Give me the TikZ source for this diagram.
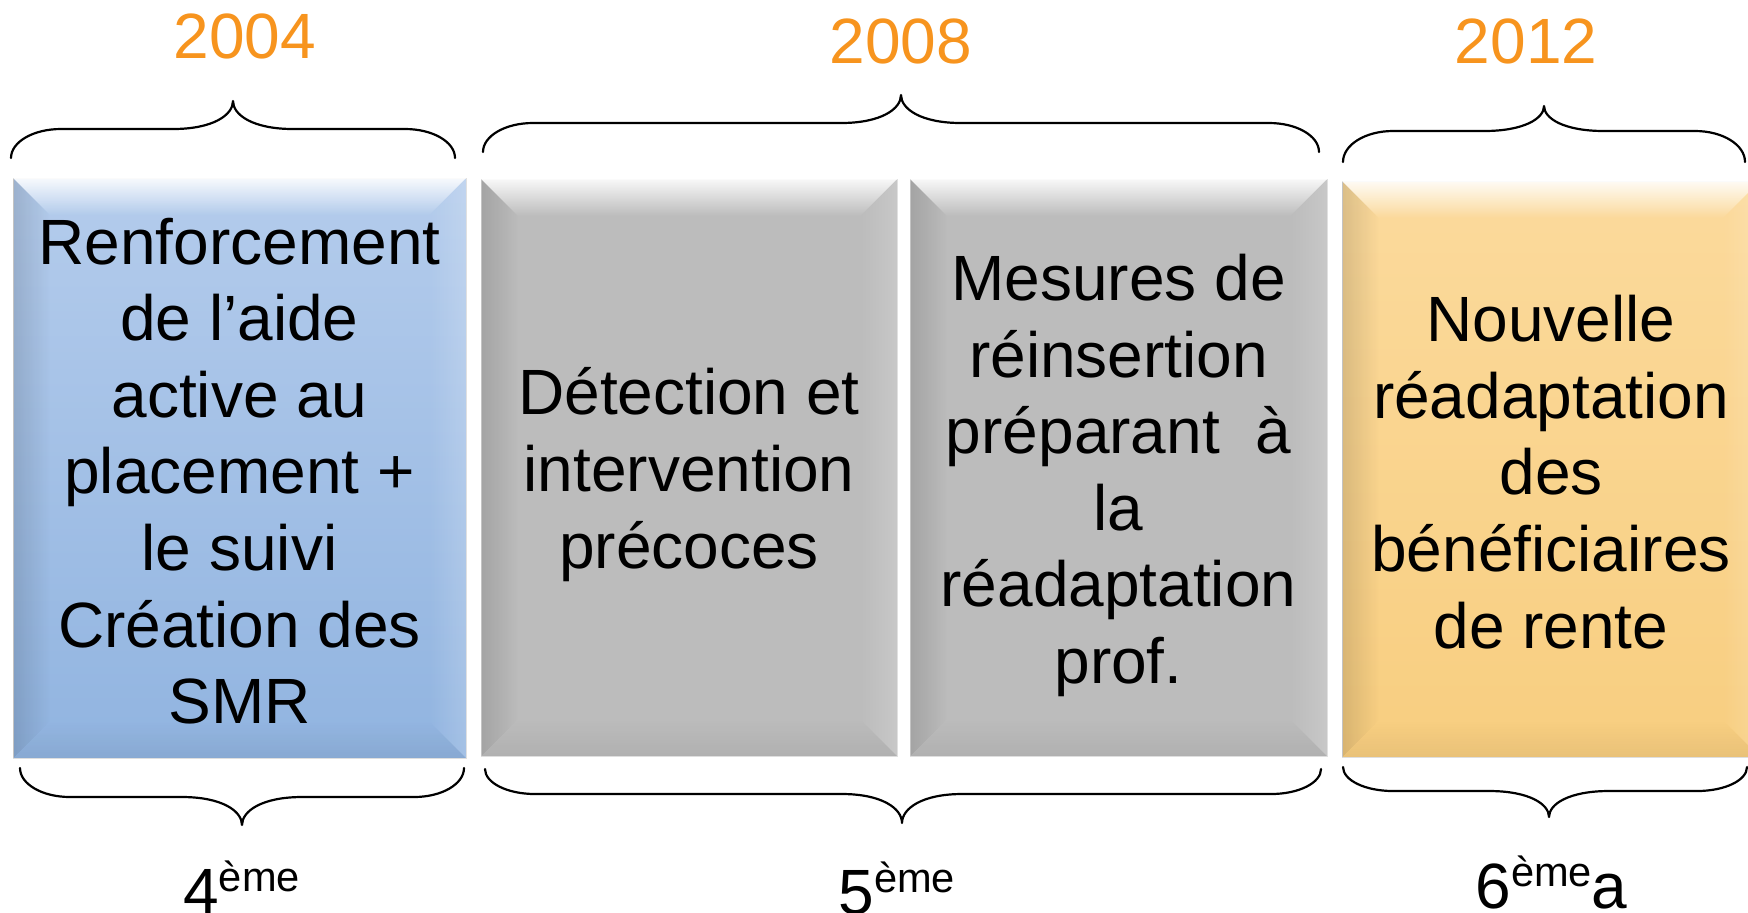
\documentclass[tikz,border=0pt]{standalone}
\usepackage{fontspec}
\setmainfont{Liberation Sans}
\usetikzlibrary{calc,fadings}
\definecolor{yearorange}{RGB}{247,148,30}
\definecolor{blueTop}{RGB}{180,204,236}
\definecolor{blueBot}{RGB}{145,180,224}
\definecolor{grayBase}{RGB}{188,188,188}
\definecolor{goldTop}{RGB}{251,218,156}
\definecolor{goldBot}{RGB}{248,206,128}
\tikzfading[name=fdown, top color=transparent!0, bottom color=transparent!100]
\tikzfading[name=fup, top color=transparent!100, bottom color=transparent!0]
\tikzfading[name=fright, left color=transparent!0, right color=transparent!100]
\tikzfading[name=fleft, left color=transparent!100, right color=transparent!0]
\tikzset{
  boxbase/.style={rectangle, inner sep=0pt, outer sep=0pt, draw=black!12, line width=0.5pt},
  boxtext/.style={align=center, text=black, font=\fontsize{32}{38.3}\selectfont, inner sep=0pt},
  yeartext/.style={anchor=base, text=yearorange, font=\fontsize{32}{38}\selectfont, inner sep=0pt},
  ranktext/.style={anchor=base west, text=black, font=\fontsize{32}{38}\selectfont, inner sep=0pt},
  bracestyle/.style={draw=black, line width=1.1pt, line cap=round, line join=round}
}
\newcommand\mysup[1]{\raisebox{11pt}{\fontsize{20.8}{24}\selectfont #1}}
% bevel overlay on a named node
\newcommand\mybevel[1]{%
  \fill[white, opacity=0.9, path fading=fdown]
    (#1.north west) -- (#1.north east) -- ($(#1.north east)+(-37,37)$) -- ($(#1.north west)+(37,37)$) -- cycle;
  \fill[black, opacity=0.13, path fading=fright]
    (#1.north west) -- ($(#1.north west)+(37,37)$) -- ($(#1.south west)+(37,-37)$) -- (#1.south west) -- cycle;
  \fill[white, opacity=0.18, path fading=fleft]
    (#1.north east) -- (#1.south east) -- ($(#1.south east)+(-37,-37)$) -- ($(#1.north east)+(-37,37)$) -- cycle;
  \fill[black, opacity=0.06, path fading=fup]
    (#1.south west) -- ($(#1.south west)+(37,-37)$) -- ($(#1.south east)+(-37,-37)$) -- (#1.south east) -- cycle;
}
% brace: xl xr xtip yend yflat ytip
\newcommand\mybrace[6]{%
  \draw[bracestyle] (#1,#4) .. controls (#1,{#5+0.45*(#4-#5)}) and ({#1+22},#5) .. ({#1+50},#5)
    -- ({#3-60},#5) .. controls ({#3-20},#5) and (#3,{#5+0.5*(#6-#5)}) .. (#3,#6)
    .. controls (#3,{#5+0.5*(#6-#5)}) and ({#3+20},#5) .. ({#3+60},#5)
    -- ({#2-50},#5) .. controls ({#2-22},#5) and (#2,{#5+0.45*(#4-#5)}) .. (#2,#4);
}
\begin{document}
\begin{tikzpicture}[x=0.5pt, y=-0.5pt]
\useasboundingbox (0,0) rectangle (1748,912);
\clip (0,0) rectangle (1748,912);
\fill[white] (0,0) rectangle (1748,912);

% years
\node[yeartext] (y1) at (245,58) {2004};
\node[yeartext] (y2) at (901,63) {2008};
\node[yeartext] (y3) at (1526,63) {2012};

% top braces
\mybrace{11}{455}{233}{158}{129}{101}
\mybrace{483}{1319}{901}{152}{123}{95}
\mybrace{1343}{1745}{1544}{162}{131}{106}

% boxes
\node[boxbase, top color=blueTop, bottom color=blueBot, minimum width=226.5pt, minimum height=290pt] (b1) at (239.5,468) {};
\mybevel{b1}
\node[boxtext] (t1) at ($(b1.center)+(0,3)$) {Renforcement\\de l’aide\\active au\\placement +\\le suivi\\Création des\\SMR};

\node[boxbase, fill=grayBase, minimum width=208pt, minimum height=288.5pt] (b2) at (689,467.5) {};
\mybevel{b2}
\node[boxtext] (t2) at ($(b2.center)+(0,7)$) {Détection et\\intervention\\précoces};

\node[boxbase, fill=grayBase, minimum width=208.5pt, minimum height=288.5pt] (b3) at (1118.5,467.5) {};
\mybevel{b3}
\node[boxtext] (t3) at ($(b3.center)+(0,8)$) {Mesures de\\réinsertion\\préparant\ \ à\\la\\réadaptation\\prof.};

\node[boxbase, top color=goldTop, bottom color=goldBot, minimum width=209pt, minimum height=288pt] (b4) at (1551,469) {};
\mybevel{b4}
\node[boxtext] (t4) at ($(b4.center)+(0,3)$) {Nouvelle\\réadaptation\\des\\bénéficiaires\\de rente};

% bottom braces
\mybrace{20}{464}{242}{768}{797}{825}
\mybrace{485}{1321}{902}{769}{794}{823}
\mybrace{1343}{1747}{1549}{767}{791}{817}

% rank labels
\node[ranktext] (r1) at (183,913) {4\mysup{ème}};
\node[ranktext] (r2) at (838,914) {5\mysup{ème}};
\node[ranktext] (r3) at (1475,908) {6\mysup{ème}a};
\end{tikzpicture}
\end{document}
